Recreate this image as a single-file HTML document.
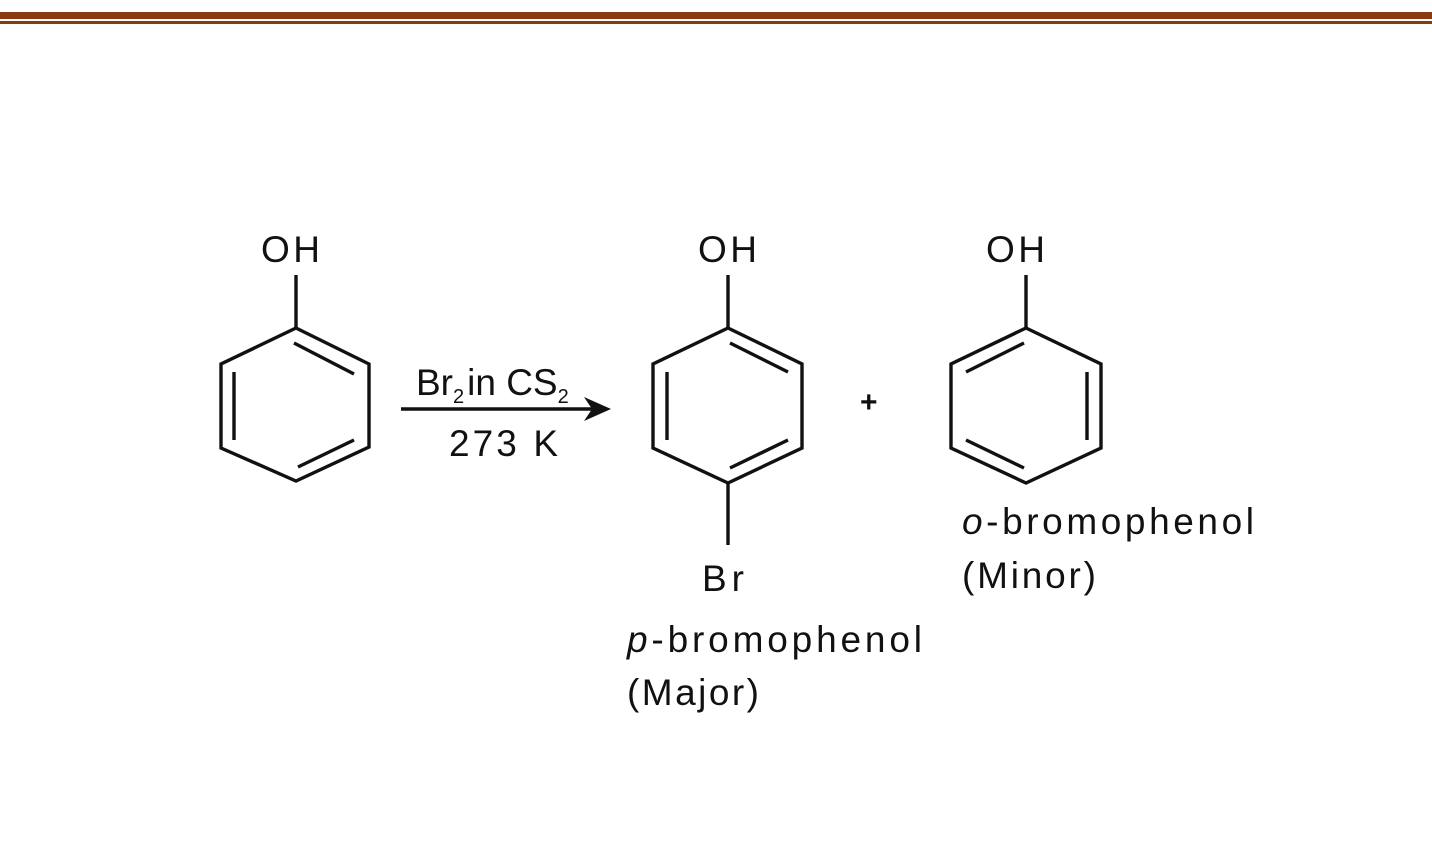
<!DOCTYPE html>
<html><head><style>
body{margin:0;background:#fff;}
svg text{font-family:"Liberation Sans",sans-serif;fill:#111;}
</style></head><body>
<svg width="1432" height="843" viewBox="0 0 1432 843" xmlns="http://www.w3.org/2000/svg">
<rect x="0" y="12" width="1432" height="7" fill="#8B3A0E"/>
<rect x="0" y="21" width="1432" height="3" fill="#8B3A0E"/>
<g stroke="#111" stroke-width="3.4" fill="none" stroke-linejoin="miter">
<polygon points="296,328 369,364 369,447 296,481 221,448 221,364"/>
<line x1="296" y1="275" x2="296" y2="328"/>
<line x1="294" y1="343" x2="354" y2="374"/>
<line x1="234" y1="372" x2="234" y2="440"/>
<line x1="298" y1="467" x2="354" y2="440"/>
<line x1="401" y1="409" x2="596" y2="409"/>
<polygon points="728,328 802,364 802,448 728,483 653,448 653,364"/>
<line x1="728" y1="275" x2="728" y2="328"/>
<line x1="728" y1="483" x2="728" y2="545"/>
<line x1="730" y1="343" x2="788" y2="372"/>
<line x1="667" y1="372" x2="667" y2="440"/>
<line x1="730" y1="468" x2="788" y2="440"/>
<polygon points="1026,328 1101,364 1101,448 1026,483 951,448 951,364"/>
<line x1="1026" y1="275" x2="1026" y2="328"/>
<line x1="1024" y1="343" x2="966" y2="372"/>
<line x1="1087" y1="372" x2="1087" y2="440"/>
<line x1="1024" y1="468" x2="966" y2="440"/>
</g>
<polygon points="611,409 584,397 592,409 584,421" fill="#111"/>
<g font-size="37">
<text x="261" y="262" textLength="59">OH</text>
<text x="698" y="262" textLength="59">OH</text>
<text x="986" y="262" textLength="59">OH</text>
<text x="702" y="591" textLength="42">Br</text>
<text x="416" y="395">Br<tspan font-size="20" dy="8">2</tspan><tspan dy="-8" dx="3">in CS</tspan><tspan font-size="20" dy="8">2</tspan></text>
<text x="449" y="456" textLength="109">273 K</text>
<text x="860" y="412" font-size="30" font-weight="bold">+</text>
<text x="627" y="652" textLength="295"><tspan font-style="italic">p</tspan>-bromophenol</text>
<text x="627" y="705" textLength="132">(Major)</text>
<text x="962" y="534" textLength="292"><tspan font-style="italic">o</tspan>-bromophenol</text>
<text x="962" y="588" textLength="134">(Minor)</text>
</g>
</svg>
</body></html>
